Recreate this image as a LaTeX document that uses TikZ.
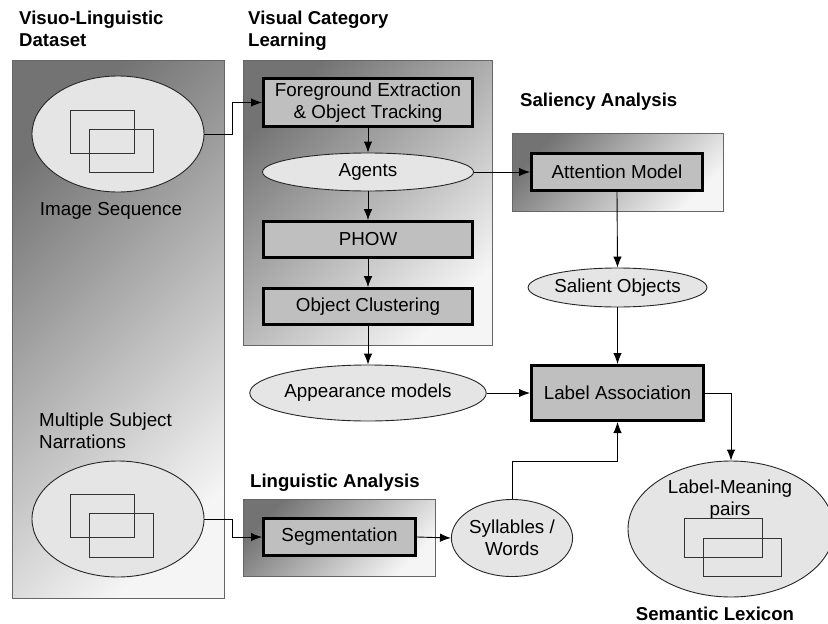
\documentclass[tikz,border=0pt]{standalone}
\usepackage{fontspec}
\setmainfont{Liberation Sans}
\usetikzlibrary{shapes.geometric,arrows.meta}

\begin{document}
\begin{tikzpicture}[x=1pt,y=1pt,
  every node/.style={font=\fontsize{18.8}{21.5}\selectfont, inner sep=0pt},
  panel/.style={draw=black!60, line width=0.8pt, top color=black!55, bottom color=black!4, shading angle=45},
  procbox/.style={rectangle, draw=black, line width=2.6pt, fill=black!25, align=center},
  dataell/.style={ellipse, draw=black!85, line width=0.9pt, fill=black!10, align=center},
  frame/.style={draw=black!80, line width=0.9pt},
  heading/.style={font=\bfseries\fontsize{18.6}{22}\selectfont, align=left},
  arr/.style={draw=black, line width=0.9pt, -{Latex[length=11pt,width=8.5pt]}}
]
\useasboundingbox (0,0) rectangle (828,-624);

% group panels
\path[panel] (12,-60) rectangle (224,-598);
\path[panel] (243,-60) rectangle (492,-345);
\path[panel] (512,-133) rectangle (723,-211);
\path[panel] (243,-499) rectangle (435,-576);

% headings
\node[heading, anchor=north west] (hdata) at (19,-11) {Visuo-Linguistic\\Dataset};
\node[heading, anchor=north west] (hvis) at (248,-11) {Visual Category\\Learning};
\node[heading, anchor=base west] (hsal) at (520,-106) {Saliency Analysis};
\node[heading, anchor=base west] (hling) at (250,-487) {Linguistic Analysis};
\node[heading, anchor=base] (hsem) at (715,-620) {Semantic Lexicon};

% dataset inputs
\node[dataell, minimum width=172, minimum height=116] (imgseq) at (118,-134) {};
\draw[frame] (70,-110) rectangle (134,-153);
\draw[frame] (89,-129) rectangle (153,-172);
\node[anchor=base] (imgseqlbl) at (111,-215) {Image Sequence};

\node[anchor=north west, align=left] (narrlbl) at (39,-413) {Multiple Subject\\Narrations};
\node[dataell, minimum width=172, minimum height=116] (narr) at (118,-519) {};
\draw[frame] (70,-494) rectangle (134,-537);
\draw[frame] (89,-513) rectangle (153,-557);

% visual category learning
\node[procbox, minimum width=209.4, minimum height=48] (fg) at (368,-102.5) {Foreground Extraction\\\& Object Tracking};
\node[dataell, minimum width=211, minimum height=38] (agents) at (368,-172) {Agents};
\node[procbox, minimum width=209.4, minimum height=36] (phow) at (368,-239.5) {PHOW};
\node[procbox, minimum width=209.4, minimum height=36] (clust) at (368,-306.5) {Object Clustering};
\node[dataell, minimum width=211, minimum height=56] (appear) at (368,-393) {Appearance models};

% saliency analysis
\node[procbox, minimum width=171.4, minimum height=37.4] (attn) at (617,-172) {Attention Model};
\node[dataell, minimum width=173, minimum height=39] (salient) at (617.5,-287.5) {Salient Objects};

% label association
\node[procbox, minimum width=172.4, minimum height=55.4] (label) at (617.5,-393) {Label Association};

% linguistic analysis
\node[procbox, minimum width=152.4, minimum height=37.4] (seg) at (339.5,-537) {Segmentation};
\node[dataell, minimum width=116, minimum height=77] (syl) at (512,-538) {Syllables /\\Words};

% semantic lexicon
\node[dataell, minimum width=206, minimum height=136] (lm) at (731,-529) {};
\node[anchor=north, align=center] (lmlbl) at (730,-480) {Label-Meaning\\pairs};
\draw[frame] (684,-518) rectangle (762,-557);
\draw[frame] (703,-538) rectangle (781,-576);

% connectors
\draw[arr] (imgseq.east) -- ++(28,0) |- (fg.west);
\draw[arr] (fg.south) -- (agents.north);
\draw[arr] (agents.south) -- (phow.north);
\draw[arr] (phow.south) -- (clust.north);
\draw[arr] (clust.south) -- (appear.north);
\draw[arr] (agents.east) -- (attn.west);
\draw[arr] (attn.south) -- (salient.north);
\draw[arr] (salient.south) -- (label.north);
\draw[arr] (appear.east) -- (label.west);
\draw[arr] (label.east) -| (lm.north);
\draw[arr] (narr.east) -- ++(28,0) |- (seg.west);
\draw[arr] (seg.east) -- (syl.west);
\draw[arr] (syl.north) -- ++(0,38) -| (label.south);
\end{tikzpicture}
\end{document}
